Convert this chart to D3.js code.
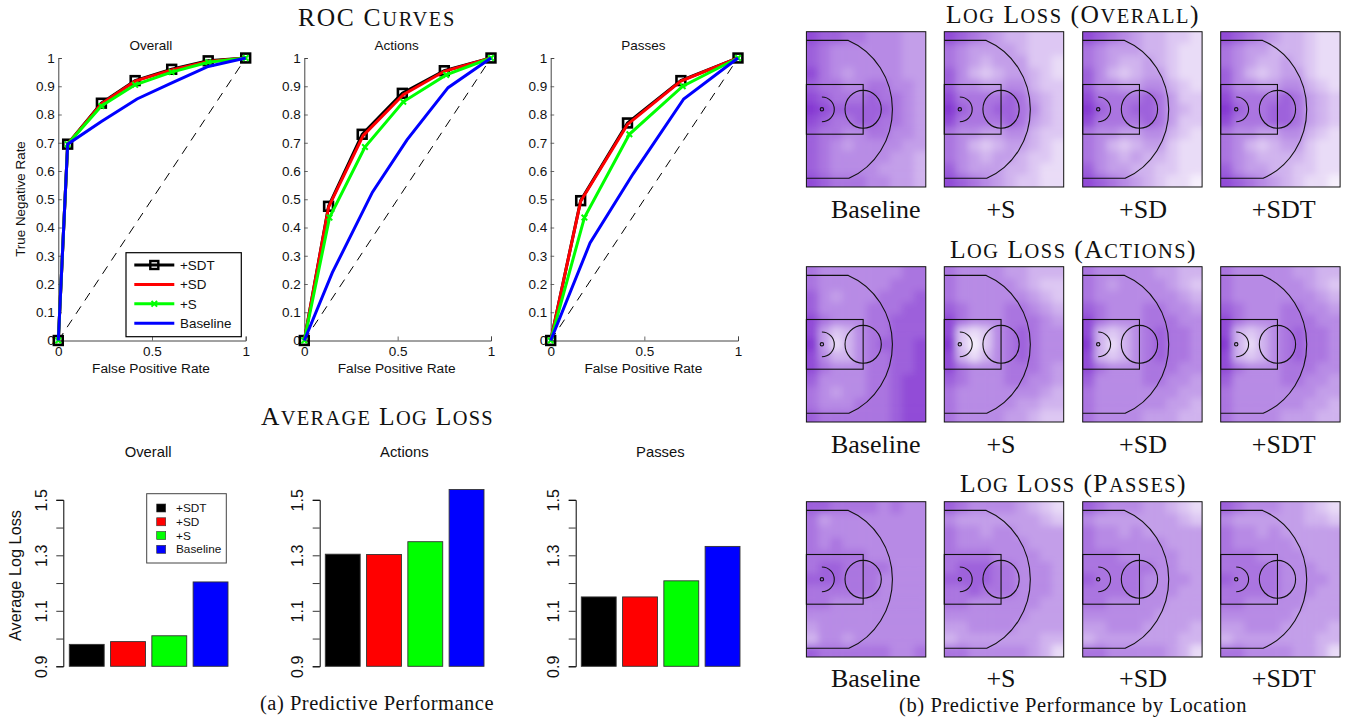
<!DOCTYPE html>
<html>
<head>
<meta charset="utf-8">
<script src="https://cdn.jsdelivr.net/npm/d3@7"></script>
<style>
  body { margin: 0; background: #fff; }
  text { fill: #111; }
  .sans { font-family: "Liberation Sans", sans-serif; }
  .serif { font-family: "Liberation Serif", serif; }
</style>
</head>
<body>
<svg id="chart" width="1346" height="717"></svg>
<script>
"use strict";

// ROC curves, [false positive rate, true negative rate]
const rocOverallSDT = [[0, 0], [0.05, 0.695], [0.23, 0.84], [0.41, 0.92], [0.605, 0.96], [0.8, 0.99], [1, 1]];
const rocOverallSD = [[0, 0], [0.05, 0.695], [0.23, 0.838], [0.41, 0.918], [0.605, 0.958], [0.8, 0.988], [1, 1]];
const rocOverallS = [[0, 0], [0.05, 0.695], [0.23, 0.83], [0.41, 0.905], [0.605, 0.95], [0.8, 0.985], [1, 1]];
const rocOverallBase = [[0, 0], [0.05, 0.695], [0.23, 0.775], [0.42, 0.855], [0.6, 0.91], [0.8, 0.97], [1, 1]];

const rocActionsSDT = [[0, 0], [0.13, 0.475], [0.31, 0.73], [0.525, 0.875], [0.75, 0.955], [1, 1]];
const rocActionsSD = [[0, 0], [0.13, 0.472], [0.315, 0.725], [0.53, 0.87], [0.75, 0.953], [1, 1]];
const rocActionsS = [[0, 0], [0.135, 0.435], [0.325, 0.685], [0.53, 0.845], [0.76, 0.94], [1, 1]];
const rocActionsBase = [[0, 0], [0.15, 0.24], [0.365, 0.525], [0.55, 0.71], [0.77, 0.895], [1, 1]];

const rocPassesSDT = [[0, 0], [0.16, 0.495], [0.41, 0.77], [0.695, 0.92], [1, 1]];
const rocPassesSD = [[0, 0], [0.16, 0.493], [0.41, 0.765], [0.695, 0.918], [1, 1]];
const rocPassesS = [[0, 0], [0.18, 0.435], [0.42, 0.73], [0.705, 0.90], [1, 1]];
const rocPassesBase = [[0, 0], [0.21, 0.345], [0.44, 0.59], [0.71, 0.855], [1, 1]];

// Average log loss
const models = ["+SDT", "+SD", "+S", "Baseline"];
const lossOverall = [0.979, 0.989, 1.01, 1.204];
const lossActions = [1.304, 1.303, 1.349, 1.537];
const lossPasses = [1.15, 1.15, 1.208, 1.332];
const lossTicks = [0.9, 1.0, 1.1, 1.2, 1.3, 1.4, 1.5];
const lossTickLabels = [0.9, 1.1, 1.3, 1.5];
const modelColors = ["#000000", "#ff0000", "#00ff00", "#0000ff"];

// Location heat maps, coarse shade readings 0 (pale) to 9 (dark), 13 rows by 10 columns
const heatOverallBaseline = [
  [8,7,7,6,6,5,5,5,4,4],
  [7,6,5,5,5,5,5,5,4,4],
  [7,6,5,5,5,5,5,5,4,4],
  [8,6,5,4,5,5,5,5,4,4],
  [7,6,6,5,5,6,6,5,5,4],
  [8,7,6,6,6,7,6,6,5,4],
  [9,8,7,7,7,7,7,6,5,4],
  [8,7,6,6,7,7,6,6,5,4],
  [7,6,6,5,5,6,6,5,5,4],
  [7,6,5,4,5,5,5,5,4,4],
  [7,6,5,5,5,5,5,4,4,3],
  [7,6,5,5,5,5,4,4,4,3],
  [8,7,6,6,6,5,5,4,4,3]];
const heatOverallS = [
  [8,7,6,5,4,3,3,2,2,2],
  [6,5,4,4,4,4,3,2,2,2],
  [6,5,4,3,4,4,4,2,2,1],
  [7,5,3,2,3,4,4,3,2,1],
  [7,5,5,4,4,5,5,3,2,2],
  [8,6,6,6,6,7,6,4,3,2],
  [9,7,6,6,7,7,6,5,3,2],
  [8,6,6,6,6,7,6,4,3,2],
  [6,5,5,4,4,5,5,3,2,2],
  [6,5,3,2,3,4,4,3,2,1],
  [6,5,4,3,4,4,3,2,2,1],
  [7,5,4,4,4,3,3,2,1,1],
  [8,7,6,5,4,3,2,2,1,1]];
const heatOverallSD = [
  [8,7,6,5,4,3,3,2,2,1],
  [6,5,4,4,4,3,3,2,1,1],
  [6,5,4,3,3,4,3,2,1,1],
  [7,5,3,2,3,4,4,2,1,1],
  [7,5,5,4,4,5,5,3,2,1],
  [8,6,6,6,6,7,6,4,2,2],
  [9,7,6,6,7,7,6,4,3,2],
  [8,6,6,6,6,7,6,4,2,2],
  [6,5,5,4,4,5,5,3,2,1],
  [6,5,3,2,3,4,4,2,1,1],
  [6,5,4,3,4,3,3,2,1,1],
  [7,5,4,4,3,3,2,2,1,1],
  [8,7,6,5,4,3,2,1,1,0]];
const heatOverallSDT = [
  [8,7,6,5,4,3,3,2,1,1],
  [6,5,4,4,3,3,3,2,1,1],
  [6,5,4,3,3,4,3,2,1,1],
  [7,5,3,2,3,4,4,2,1,1],
  [7,5,5,4,4,5,5,3,2,1],
  [8,6,6,6,6,7,6,4,3,2],
  [9,7,6,6,7,7,6,4,3,2],
  [8,6,6,6,7,7,6,4,3,2],
  [6,5,5,4,4,5,5,3,2,1],
  [6,5,3,2,3,4,4,2,1,1],
  [6,5,4,3,3,3,3,2,1,1],
  [7,5,4,4,3,3,2,2,1,1],
  [8,7,6,5,4,3,2,1,1,0]];

const heatActionsBaseline = [
  [6,5,5,5,5,5,5,5,6,6],
  [6,5,5,5,5,5,5,6,6,6],
  [7,5,4,5,5,5,6,6,6,7],
  [7,5,5,5,5,6,6,6,7,7],
  [8,6,5,5,5,6,6,7,7,7],
  [8,4,2,3,5,6,6,7,7,7],
  [9,4,1,3,5,6,7,7,7,8],
  [8,5,3,3,5,6,6,7,7,8],
  [8,6,5,5,5,6,6,7,7,8],
  [7,5,5,5,5,6,6,7,8,8],
  [6,5,4,5,5,6,6,7,8,8],
  [6,5,5,5,6,6,6,7,8,8],
  [7,6,6,6,6,6,6,7,8,8]];
const heatActionsS = [
  [6,5,5,5,5,4,4,3,3,3],
  [6,5,5,5,5,5,4,3,2,2],
  [6,5,5,5,5,5,5,4,3,2],
  [7,6,5,5,5,6,6,5,4,3],
  [8,6,5,5,5,6,6,6,5,4],
  [8,2,1,2,5,6,7,6,5,5],
  [9,2,0,2,5,6,7,6,5,5],
  [8,3,1,3,5,6,7,6,5,5],
  [8,6,5,5,5,6,6,6,5,4],
  [7,6,5,5,5,6,6,5,5,4],
  [6,5,5,5,5,5,5,5,4,3],
  [6,5,5,5,5,5,4,4,3,3],
  [6,5,5,5,5,4,4,3,2,2]];
const heatActionsSD = [
  [6,5,5,5,5,5,4,4,3,3],
  [6,5,4,5,5,5,5,4,3,2],
  [6,5,5,5,5,5,5,5,4,3],
  [7,6,5,5,5,6,6,5,5,4],
  [8,6,5,5,5,6,6,6,5,5],
  [8,3,2,3,5,6,7,6,6,5],
  [9,3,1,3,5,6,7,6,6,5],
  [8,3,2,3,5,6,7,6,6,5],
  [8,6,5,5,5,6,6,6,5,5],
  [7,5,5,5,5,6,6,5,5,4],
  [6,5,5,5,5,5,5,5,4,4],
  [6,5,5,5,5,5,5,4,4,3],
  [6,5,5,5,5,4,4,4,3,3]];
const heatActionsSDT = [
  [6,5,5,5,5,5,4,4,3,3],
  [6,5,5,5,5,5,5,4,3,2],
  [6,5,5,5,5,5,5,5,4,3],
  [7,6,5,5,5,6,6,5,5,4],
  [8,6,5,5,5,6,6,6,5,5],
  [8,3,2,3,5,6,7,6,6,5],
  [9,3,1,3,5,6,7,6,6,5],
  [8,3,2,3,5,6,7,6,6,5],
  [8,6,5,5,5,6,6,6,5,5],
  [7,5,5,5,5,6,6,5,5,4],
  [6,5,5,5,5,5,5,5,4,4],
  [6,5,5,5,5,5,5,4,4,3],
  [6,5,5,5,5,4,4,4,3,3]];

const heatPassesBaseline = [
  [7,7,6,6,6,6,5,6,5,5],
  [6,4,5,5,5,5,5,5,5,5],
  [6,5,5,5,5,5,5,5,5,5],
  [6,5,6,5,5,5,5,5,5,5],
  [6,6,6,6,6,5,5,5,5,5],
  [6,7,7,6,6,6,6,5,5,5],
  [7,7,7,6,6,6,5,5,5,5],
  [6,6,6,6,6,6,5,5,5,5],
  [6,6,5,5,5,5,5,5,5,5],
  [5,5,5,5,5,5,5,5,5,5],
  [4,5,5,5,5,5,5,5,5,5],
  [3,5,5,4,5,5,5,5,5,5],
  [7,6,6,6,6,6,6,5,5,6]];
const heatPassesS = [
  [7,6,5,5,5,5,4,3,2,1],
  [5,4,4,4,4,4,4,4,3,2],
  [6,5,5,4,5,5,4,4,4,4],
  [6,5,5,5,5,5,5,4,4,4],
  [6,6,6,6,5,5,5,5,4,4],
  [6,7,7,7,6,6,5,5,5,4],
  [7,7,7,7,6,6,5,5,5,4],
  [6,6,7,6,6,6,5,5,5,4],
  [6,6,5,5,5,5,5,5,4,4],
  [5,5,5,5,5,5,5,4,4,4],
  [4,4,5,5,5,5,4,4,4,4],
  [3,4,4,4,4,4,4,4,3,3],
  [6,6,5,5,5,5,5,4,3,1]];
const heatPassesSD = [
  [7,6,5,5,5,4,4,3,2,1],
  [5,4,4,4,4,4,4,4,3,2],
  [6,5,5,4,5,4,4,4,4,4],
  [6,5,5,5,5,5,5,4,4,4],
  [6,6,6,5,5,5,5,5,4,4],
  [6,6,6,6,6,6,5,5,4,4],
  [7,6,6,6,6,5,5,5,5,4],
  [6,6,6,6,6,5,5,5,4,4],
  [6,6,5,5,5,5,5,4,4,4],
  [5,5,5,5,5,5,4,4,4,4],
  [4,4,5,5,5,4,4,4,4,3],
  [3,4,4,4,4,4,4,4,3,3],
  [6,6,5,5,5,5,5,4,3,1]];
const heatPassesSDT = [
  [7,6,5,5,5,4,4,3,2,1],
  [5,4,4,4,4,4,4,3,3,2],
  [6,5,5,4,5,4,4,4,4,4],
  [6,5,5,5,5,5,4,4,4,4],
  [6,6,6,5,5,5,5,4,4,4],
  [6,6,6,6,6,5,5,5,4,4],
  [7,6,6,6,6,5,5,5,5,4],
  [6,6,6,6,6,5,5,5,4,4],
  [6,6,5,5,5,5,5,4,4,4],
  [5,5,5,5,5,5,4,4,4,4],
  [4,4,5,5,5,4,4,4,4,3],
  [3,4,4,4,4,4,4,4,3,3],
  [6,6,5,5,5,5,4,4,3,1]];

const heatColumns = ["Baseline", "+S", "+SD", "+SDT"];
const rocTicks = d3.range(0, 11).map((d) => d / 10);

const svg = d3.select("#chart");

function translate(x, y) {
  return "translate(" + x + "," + y + ")";
}

function label(parent, x, y, str, size, cls, anchor) {
  return parent.append("text")
    .attr("x", x).attr("y", y)
    .attr("class", cls)
    .attr("font-size", size)
    .attr("text-anchor", anchor || "middle")
    .text(str);
}

// stretch a text to the width it has in the reference
function fitWidth(sel, width) {
  const node = sel.node();
  const n = node.getNumberOfChars();
  sel.attr("letter-spacing", (width - node.getComputedTextLength()) / n);
  return sel;
}

// LaTeX style small caps: lower case letters as smaller capitals
function capsHeading(x, y, str, size, width) {
  const t = svg.append("text").attr("x", x).attr("y", y)
    .attr("class", "serif").attr("font-size", size).attr("text-anchor", "middle");
  const parts = str.match(/[a-z]+|[^a-z]+/g);
  parts.forEach((p) => {
    const small = /[a-z]/.test(p);
    t.append("tspan")
      .attr("font-size", small ? size * 0.8 : size)
      .text(p.toUpperCase());
  });
  fitWidth(t, width);
}

// ---- ROC panels ----
function rocPanel(x0, x1, title, curves, yLabel) {
  const yTop = 58, yBottom = 340.5;
  const x = d3.scaleLinear().domain([0, 1]).range([x0, x1]);
  const y = d3.scaleLinear().domain([0, 1]).range([yBottom, yTop]);
  const g = svg.append("g");

  const xAxis = d3.axisBottom(x).tickValues([0, 0.5, 1]).tickFormat(d3.format("~g")).tickSize(-4).tickPadding(6);
  const yAxis = d3.axisLeft(y).tickValues(rocTicks).tickFormat(d3.format("~g")).tickSize(-3.5).tickPadding(3.5);
  g.append("g").attr("transform", translate(0, yBottom)).call(xAxis);
  g.append("g").attr("transform", translate(x0, 0)).call(yAxis);
  g.selectAll(".domain").attr("stroke", "#444").attr("stroke-width", 1);
  g.selectAll(".tick line").attr("stroke", "#444").attr("stroke-width", 0.8);
  g.selectAll(".tick text").attr("class", "sans").attr("font-size", 13.5).attr("fill", "#222");

  g.append("line")
    .attr("x1", x(0)).attr("y1", y(0)).attr("x2", x(1)).attr("y2", y(1))
    .attr("stroke", "#000").attr("stroke-width", 1).attr("stroke-dasharray", "9,7");

  const line = d3.line().x((d) => x(d[0])).y((d) => y(d[1]));

  g.append("path").datum(curves[0]).attr("d", line).attr("fill", "none").attr("stroke", "#000").attr("stroke-width", 3);
  g.selectAll(".sq").data(curves[0]).enter().append("rect").attr("class", "sq")
    .attr("x", (d) => x(d[0]) - 4.4).attr("y", (d) => y(d[1]) - 4.4)
    .attr("width", 8.8).attr("height", 8.8)
    .attr("fill", "none").attr("stroke", "#000").attr("stroke-width", 2.6);
  g.append("path").datum(curves[1]).attr("d", line).attr("fill", "none").attr("stroke", "#ff0000").attr("stroke-width", 3);
  g.append("path").datum(curves[2]).attr("d", line).attr("fill", "none").attr("stroke", "#00ff00").attr("stroke-width", 3);
  g.selectAll(".cross").data(curves[2]).enter().append("path").attr("class", "cross")
    .attr("d", d3.symbol(d3.symbolX, 22))
    .attr("transform", (d) => translate(x(d[0]), y(d[1])))
    .attr("fill", "none").attr("stroke", "#00ff00").attr("stroke-width", 2);
  g.append("path").datum(curves[3]).attr("d", line).attr("fill", "none").attr("stroke", "#0000ff").attr("stroke-width", 3);

  label(g, (x0 + x1) / 2 - 1, 49.5, title, 13.5, "sans").attr("fill", "#222");
  label(g, (x0 + x1) / 2 - 1, 372.5, "False Positive Rate", 13.7, "sans").attr("fill", "#222");
  if (yLabel) {
    label(g, 0, 0, yLabel, 13.4, "sans")
      .attr("x", null).attr("y", null)
      .attr("transform", translate(25, 199) + " rotate(-90)");
  }
}

rocPanel(58.3, 245.7, "Overall", [rocOverallSDT, rocOverallSD, rocOverallS, rocOverallBase], "True Negative Rate");
rocPanel(304.3, 491, "Actions", [rocActionsSDT, rocActionsSD, rocActionsS, rocActionsBase]);
rocPanel(550.7, 738, "Passes", [rocPassesSDT, rocPassesSD, rocPassesS, rocPassesBase]);

// ROC legend
const rocLegend = svg.append("g");
rocLegend.append("rect").attr("x", 126).attr("y", 252.7).attr("width", 115.3).attr("height", 84)
  .attr("fill", "#fff").attr("stroke", "#000").attr("stroke-width", 1.2);
const rocLegendY = d3.scalePoint().domain(["+SDT", "+SD", "+S", "Baseline"]).range([265, 323.3]);
models.forEach((m, i) => {
  const yy = rocLegendY(m);
  rocLegend.append("line").attr("x1", 134.3).attr("x2", 174.3).attr("y1", yy).attr("y2", yy)
    .attr("stroke", modelColors[i]).attr("stroke-width", 3);
  if (i === 0) {
    rocLegend.append("rect").attr("x", 150.3).attr("y", yy - 4).attr("width", 8).attr("height", 8)
      .attr("fill", "none").attr("stroke", "#000").attr("stroke-width", 2.4);
  }
  if (i === 2) {
    rocLegend.append("path").attr("d", d3.symbol(d3.symbolX, 22)).attr("transform", translate(154.3, yy))
      .attr("fill", "none").attr("stroke", "#00ff00").attr("stroke-width", 2);
  }
  label(rocLegend, 180, yy + 5, m, 13.4, "sans", "start").attr("fill", "#222");
});

// ---- Bar panels ----
function barPanel(axisX, x0, x1, title, values, withLabel) {
  const y = d3.scaleLinear().domain([0.9, 1.5]).range([666.3, 499.8]);
  const x = d3.scaleBand().domain(models).range([x0, x1]).paddingInner(0.155);
  const g = svg.append("g");

  const yAxis = d3.axisLeft(y).tickValues(lossTicks).tickSize(7)
    .tickFormat((d) => (lossTickLabels.includes(d) ? d3.format(".1f")(d) : ""));
  const axis = g.append("g").attr("transform", translate(axisX, 0)).call(yAxis);
  axis.select(".domain").attr("stroke", "#000").attr("stroke-width", 1);
  axis.selectAll(".tick line").attr("stroke", "#000").attr("stroke-width", 0.8);
  axis.selectAll(".tick text")
    .attr("class", "sans").attr("font-size", 16).attr("fill", "#222")
    .attr("text-anchor", "middle").attr("dy", null)
    .attr("x", null)
    .attr("transform", "translate(-16.5,0) rotate(-90)");

  g.selectAll(".bar").data(values).enter().append("rect").attr("class", "bar")
    .attr("x", (d, i) => x(models[i]))
    .attr("y", (d) => y(d))
    .attr("width", x.bandwidth())
    .attr("height", (d) => y(0.9) - y(d))
    .attr("fill", (d, i) => modelColors[i])
    .attr("stroke", "#333").attr("stroke-width", 0.9);

  label(g, (axisX + x1) / 2 + 2.5, 456.5, title, 14.8, "sans").attr("fill", "#222");
  if (withLabel) {
    label(g, 0, 0, "Average Log Loss", 16.3, "sans")
      .attr("x", null).attr("y", null)
      .attr("transform", translate(20.5, 575.5) + " rotate(-90)");
  }
}

barPanel(63.3, 69.3, 228, "Overall", lossOverall, true);
barPanel(319.7, 325.3, 484, "Actions", lossActions);
barPanel(575.7, 581.3, 740, "Passes", lossPasses);

// bar legend
const barLegend = svg.append("g");
barLegend.append("rect").attr("x", 146.7).attr("y", 493.7).attr("width", 79.6).attr("height", 69.3)
  .attr("fill", "#fff").attr("stroke", "#444").attr("stroke-width", 1);
const barLegendY = d3.scalePoint().domain(models).range([508, 549.3]);
models.forEach((m, i) => {
  barLegend.append("rect").attr("x", 156.7).attr("y", barLegendY(m) - 4).attr("width", 9).attr("height", 8)
    .attr("fill", modelColors[i]).attr("stroke", "#333").attr("stroke-width", 0.6);
  label(barLegend, 176, barLegendY(m) + 4, m, 11.8, "sans", "start").attr("fill", "#222");
});

// ---- Heat map panels ----
const defs = svg.append("defs");
defs.append("filter").attr("id", "soften")
  .attr("x", "-20%").attr("y", "-20%").attr("width", "140%").attr("height", "140%")
  .append("feGaussianBlur").attr("stdDeviation", 3.5);

const shade = d3.scaleLinear().domain([0, 9]).range(["#f6f0fc", "#8438d2"]);
let clipCount = 0;

function court(g, w, h) {
  // court lengths in feet, from the baseline at left
  const x = d3.scaleLinear().domain([0, 38.5]).range([0, w]);
  const y = d3.scaleLinear().domain([0, 50]).range([0, h]);
  const c = g.append("g").attr("fill", "none").attr("stroke", "#111").attr("stroke-width", 1.1);
  const rx = x(22.8), ry = y(24);
  c.append("path").attr("d",
    "M" + x(0) + "," + y(2.8) +
    "L" + x(13.5) + "," + y(2.8) +
    "A" + rx + "," + ry + " 0 0 1 " + x(13.7) + "," + y(47.2) +
    "L" + x(0) + "," + y(47.2));
  c.append("rect").attr("x", x(0)).attr("y", y(17)).attr("width", x(18.3)).attr("height", y(16));
  c.append("ellipse").attr("cx", x(18.3)).attr("cy", y(25)).attr("rx", x(5.85)).attr("ry", y(6.1));
  c.append("path").attr("d",
    "M" + x(5) + "," + y(21) +
    "A" + x(4) + "," + y(4) + " 0 0 1 " + x(5) + "," + y(29));
  c.append("circle").attr("cx", x(5)).attr("cy", y(25)).attr("r", 1.7);
}

function heatPanel(px, py, grid) {
  const w = 119.4, h = 155.3;
  const g = svg.append("g").attr("transform", translate(px, py));
  const col = d3.scaleBand().domain(d3.range(grid[0].length)).range([0, w]);
  const row = d3.scaleBand().domain(d3.range(grid.length)).range([0, h]);
  const id = "clip" + clipCount++;
  defs.append("clipPath").attr("id", id).append("rect").attr("width", w).attr("height", h);

  const nRows = grid.length, nCols = grid[0].length, over = 20;
  const cells = g.append("g").attr("clip-path", "url(#" + id + ")").append("g").attr("filter", "url(#soften)");
  grid.forEach((r, ri) => r.forEach((v, ci) => {
    // outer cells run past the frame so that the blur does not fade out at the edge
    cells.append("rect")
      .attr("x", col(ci) - (ci === 0 ? over : 0))
      .attr("y", row(ri) - (ri === 0 ? over : 0))
      .attr("width", col.bandwidth() + 0.5 + (ci === 0 || ci === nCols - 1 ? over : 0))
      .attr("height", row.bandwidth() + 0.5 + (ri === 0 || ri === nRows - 1 ? over : 0))
      .attr("fill", shade(v));
  }));
  court(g, w, h);
  g.append("rect").attr("width", w).attr("height", h).attr("fill", "none").attr("stroke", "#111").attr("stroke-width", 1);
}

const heatX = [806.4, 944.3, 1082.7, 1220.7];
const labelX = [875.7, 1001, 1143, 1283.7];
const heatRows = [
  { y: 31.7, labelY: 218, grids: [heatOverallBaseline, heatOverallS, heatOverallSD, heatOverallSDT] },
  { y: 266.7, labelY: 453, grids: [heatActionsBaseline, heatActionsS, heatActionsSD, heatActionsSDT] },
  { y: 501.7, labelY: 687, grids: [heatPassesBaseline, heatPassesS, heatPassesSD, heatPassesSDT] }
];
heatRows.forEach((r) => {
  r.grids.forEach((grid, i) => {
    heatPanel(heatX[i], r.y, grid);
    label(svg, labelX[i], r.labelY, heatColumns[i], 26, "serif");
  });
});

// ---- Headings and captions ----
capsHeading(377, 26, "ROC Curves", 25.5, 158);
capsHeading(377.5, 425, "Average Log Loss", 25.5, 233);
capsHeading(1073, 22.5, "Log Loss (Overall)", 25.5, 254);
capsHeading(1073.5, 257.5, "Log Loss (Actions)", 25.5, 247);
capsHeading(1073.5, 492.3, "Log Loss (Passes)", 25.5, 227);
fitWidth(label(svg, 377, 710, "(a) Predictive Performance", 20.5, "serif"), 234);
fitWidth(label(svg, 1073, 712, "(b) Predictive Performance by Location", 20.5, "serif"), 348);
</script>
</body>
</html>
